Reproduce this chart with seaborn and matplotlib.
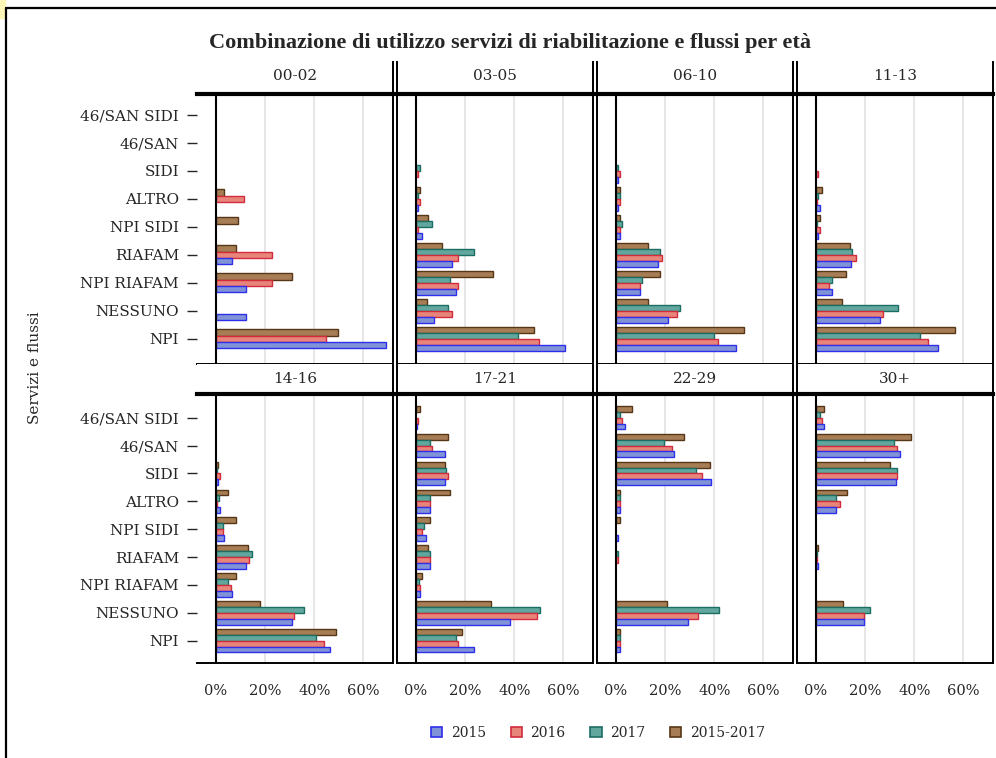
import numpy as np
import pandas as pd
import seaborn as sns
import matplotlib.pyplot as plt
from matplotlib.patches import Patch, Rectangle
from matplotlib.lines import Line2D

# categorie (dall'alto in basso) e fasce d'età
servizi = ["46/SAN SIDI", "46/SAN", "SIDI", "ALTRO", "NPI SIDI",
           "RIAFAM", "NPI RIAFAM", "NESSUNO", "NPI"]
eta = ["00-02", "03-05", "06-10", "11-13", "14-16", "17-21", "22-29", "30+"]
periodi = ["2015", "2016", "2017", "2015-2017"]

# percentuali, una riga per fascia d'età
pct_2015 = [
    [0, 0, 0, 0, 0, 6.5, 12.2, 12.2, 69.2],
    [0, 0, 0, 0.8, 2.4, 14.6, 16.4, 7.6, 60.7],
    [0, 0, 0.9, 0.8, 1.7, 17.0, 9.8, 21.1, 48.7],
    [0, 0, 0, 1.6, 0.8, 14.4, 6.5, 26.0, 49.5],
    [0, 0, 0.8, 1.6, 3.3, 12.2, 6.5, 31.0, 46.5],
    [0.5, 11.7, 11.7, 5.8, 4.2, 5.8, 1.6, 38.3, 23.7],
    [3.9, 23.7, 38.9, 1.7, 0.8, 0, 0, 29.3, 1.7],
    [3.2, 34.1, 32.5, 8.2, 0, 0.9, 0, 19.5, 0],
]
pct_2016 = [
    [0, 0, 0, 11.5, 0, 22.9, 22.9, 0, 44.7],
    [0, 0, 0.8, 1.8, 0.8, 17.3, 17.3, 14.6, 49.9],
    [0, 0, 1.7, 1.7, 1.6, 18.8, 9.7, 25.0, 41.5],
    [0, 0, 0.9, 0.7, 1.6, 16.2, 5.5, 27.5, 45.4],
    [0, 0, 1.6, 0.5, 3.1, 13.7, 6.4, 31.7, 44.0],
    [0.8, 6.5, 13.0, 5.8, 2.4, 5.8, 1.6, 49.2, 17.3],
    [2.4, 22.9, 34.9, 1.7, 0, 0.9, 0, 33.4, 1.7],
    [2.4, 33.2, 33.2, 9.7, 0, 0.7, 0, 19.5, 0],
]
pct_2017 = [
    [np.nan] * 9,
    [0, 0, 1.8, 0.8, 6.8, 23.7, 14.0, 13.3, 41.7],
    [0, 0, 0.9, 1.6, 2.6, 17.9, 10.6, 26.1, 39.8],
    [0, 0, 0, 0.8, 0.7, 14.7, 6.5, 33.3, 42.2],
    [0, 0, 0.5, 1.5, 3.1, 14.6, 4.9, 35.8, 40.7],
    [0, 5.8, 12.3, 5.8, 3.3, 5.8, 1.5, 50.5, 16.5],
    [1.7, 19.7, 32.6, 1.7, 0, 0.9, 0, 42.1, 1.7],
    [1.6, 31.7, 33.2, 8.2, 0, 0.7, 0, 22.0, 0],
]
pct_1517 = [
    [0, 0, 0, 3.4, 8.9, 8.1, 31.0, 0, 49.7],
    [0, 0, 0, 1.8, 5.1, 10.8, 31.2, 4.7, 48.2],
    [0, 0, 0, 1.7, 1.7, 13.0, 17.9, 13.0, 52.0],
    [0, 0, 0, 2.6, 1.6, 13.9, 12.1, 10.6, 56.7],
    [0, 0, 0.9, 4.9, 8.1, 13.0, 8.1, 17.8, 48.9],
    [1.8, 13.3, 11.7, 14.0, 5.8, 5.0, 2.4, 30.5, 18.8],
    [6.6, 27.7, 38.2, 1.7, 1.7, 0, 0, 21.0, 1.7],
    [3.4, 38.8, 30.0, 12.9, 0, 0.9, 0, 11.2, 0],
]

rows = []
for periodo, tab in zip(periodi, [pct_2015, pct_2016, pct_2017, pct_1517]):
    for e, valori in zip(eta, tab):
        for s, v in zip(servizi, valori):
            rows.append({"eta": e, "servizio": s, "periodo": periodo, "pct": v})
df = pd.DataFrame(rows)

fill = {"2015": "#7F93D6", "2016": "#E8857B", "2017": "#62A79D", "2015-2017": "#A77D55"}
edge = {"2015": "#2E2EEB", "2016": "#D12B3C", "2017": "#1C6E64", "2015-2017": "#573715"}
# ordine dall'alto in basso dentro ogni gruppo
ordine_barre = ["2015-2017", "2017", "2016", "2015"]

sns.set_style("white")
plt.rcParams["font.family"] = ["DejaVu Serif"]

W, H = 996, 758
fig = plt.figure(figsize=(W / 100, H / 100), dpi=100)


def box(x0, y0, x1, y1):
    return [x0 / W, 1 - y1 / H, (x1 - x0) / W, (y1 - y0) / H]


col_left = [197, 397, 597, 797]
row_y = [(62, 94, 364), (364, 394, 663)]   # header top, plot top, plot bottom
ylims = [(8.9, -0.75), (8.8, -0.85)]

for i, e in enumerate(eta):
    r, c = divmod(i, 4)
    x0 = col_left[c]
    x1 = x0 + 196
    ht, pt, pb = row_y[r]

    # striscia del titolo del pannello
    hax = fig.add_axes(box(x0, ht, x1, pt))
    hax.set_xticks([])
    hax.set_yticks([])
    for sp in hax.spines.values():
        sp.set_linewidth(1.4)
        sp.set_color("black")
    hax.spines["top"].set_visible(False)
    if c == 0:
        hax.spines["left"].set_visible(False)
    hax.text(0.5, 0.55 if r == 0 else 0.5, e, ha="center", va="center", fontsize=11,
             transform=hax.transAxes)

    ax = fig.add_axes(box(x0, pt, x1, pb))
    sub = df[(df["eta"] == e) & df["pct"].notna()]
    livelli = [p for p in ordine_barre if p in sub["periodo"].unique()]
    larghezza = 0.84 if len(livelli) == 4 else 0.68
    sns.barplot(data=sub[sub["pct"] > 0], x="pct", y="servizio", hue="periodo",
                order=servizi, hue_order=livelli, palette=fill, orient="h",
                width=larghezza, saturation=1, legend=False, ax=ax, zorder=3)
    for cont, lvl in zip(ax.containers, livelli):
        for bar in cont:
            bar.set_edgecolor(edge[lvl])
            bar.set_linewidth(1.0)

    for g in [20, 40, 60]:
        ax.axvline(g, color="#e4e4e4", lw=1.3, zorder=0)
    ax.axvline(0, color="black", lw=1.5, zorder=4)

    ax.set_xlim(-7.6, 72)
    ax.set_ylim(*ylims[r])
    ax.set_xlabel("")
    ax.set_ylabel("")
    for sp in ax.spines.values():
        sp.set_color("black")
        sp.set_linewidth(1.4)
    ax.spines["top"].set_linewidth(3)
    if c == 0:
        ax.spines["left"].set_visible(False)

    ax.set_xticks([0, 20, 40, 60])
    if r == 1:
        ax.set_xticklabels(["0%", "20%", "40%", "60%"], fontsize=10.5)
        ax.tick_params(axis="x", length=0, pad=15)
    else:
        ax.set_xticklabels([])
        ax.tick_params(axis="x", length=0)
    if c == 0:
        ax.tick_params(axis="y", length=7, width=1, pad=6, labelsize=11, left=True)
    else:
        ax.set_yticklabels([])
        ax.tick_params(axis="y", length=0)

fig.text(510 / W, 1 - 43 / H, "Combinazione di utilizzo servizi di riabilitazione e flussi per età",
         ha="center", va="center", fontsize=16, fontweight="bold", family="Liberation Serif")
fig.text(35 / W, 1 - 368 / H, "Servizi e flussi", rotation=90, ha="center", va="center", fontsize=11)

handles = [Patch(facecolor=fill[p], edgecolor=edge[p], linewidth=1.2) for p in periodi]
fig.legend(handles, periodi, loc="center", bbox_to_anchor=(598 / W, 1 - 733 / H), ncol=4,
           frameon=False, handlelength=0.8, handleheight=0.8, handletextpad=0.6,
           columnspacing=1.8, fontsize=10)

# cornice esterna
fig.add_artist(Line2D([6 / W, 6 / W], [0, 1 - 8 / H], color="black", lw=1.6))
fig.add_artist(Line2D([6 / W, 1], [1 - 8 / H, 1 - 8 / H], color="black", lw=1.6))
fig.add_artist(Rectangle((0, 1 - 18 / H), 5 / W, 18 / H, color="#FFF7B8", transform=fig.transFigure))

fig.savefig("out.png", dpi=100)
